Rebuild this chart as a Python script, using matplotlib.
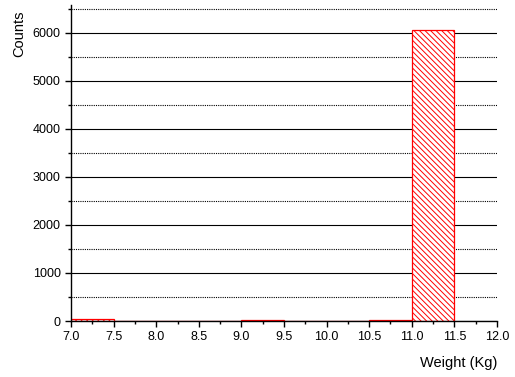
import matplotlib
matplotlib.use("Agg")
import matplotlib.pyplot as plt
from matplotlib.ticker import MultipleLocator
import numpy as np

bin_edges = [7.0, 7.5, 8.0, 8.5, 9.0, 9.5, 10.0, 10.5, 11.0, 11.5]
counts = [35, 4, 4, 4, 30, 4, 4, 30, 6060]

plt.rcParams['font.family'] = ['Liberation Sans', 'DejaVu Sans']
plt.rcParams['hatch.color'] = 'red'
plt.rcParams['hatch.linewidth'] = 0.7

fig = plt.figure(figsize=(5.15, 3.77), dpi=100)
ax = fig.add_axes([0.138, 0.1485, 0.827, 0.8385])

lefts = np.array(bin_edges[:-1])
widths = np.diff(bin_edges)
ax.bar(lefts, counts, width=widths, align='edge', facecolor='white',
       edgecolor='red', linewidth=0.9, hatch='\\\\\\\\\\\\', zorder=3)

ax.set_xlim(7.0, 12.0)
ax.set_ylim(0, 6580)
ax.xaxis.set_major_locator(MultipleLocator(0.5))
ax.xaxis.set_minor_locator(MultipleLocator(0.25))
ax.yaxis.set_major_locator(MultipleLocator(1000))
ax.yaxis.set_minor_locator(MultipleLocator(500))
ax.set_xticks(np.arange(7.0, 12.01, 0.5))
ax.set_xticklabels([f"{v:.1f}" for v in np.arange(7.0, 12.01, 0.5)])

ax.grid(True, which='major', axis='y', color='black', linewidth=0.8, linestyle='-', zorder=1)
ax.grid(True, which='minor', axis='y', color='black', linewidth=0.8, linestyle=(0, (1, 1)), zorder=1)
ax.set_axisbelow(True)

for s in ['top', 'right']:
    ax.spines[s].set_visible(False)
for s in ['left', 'bottom']:
    ax.spines[s].set_linewidth(1.0)
    ax.spines[s].set_zorder(4)

ax.tick_params(which='major', direction='out', length=4, width=1, labelsize=9, colors='black')
ax.tick_params(which='minor', direction='out', length=2.5, width=1)

ax.set_ylabel('Counts', fontsize=10.5)
ax.yaxis.set_label_coords(-0.105, 0.91)
ax.set_xlabel('Weight (Kg)', fontsize=10.5)
ax.xaxis.set_label_coords(1.0, -0.112)
ax.xaxis.label.set_horizontalalignment('right')
ax.xaxis.label.set_verticalalignment('top')

fig.savefig('out.png', dpi=100)
